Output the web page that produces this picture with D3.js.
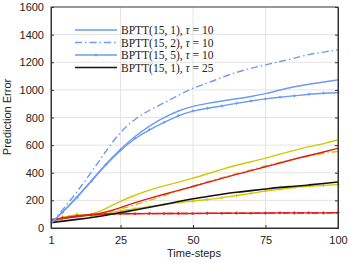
<!DOCTYPE html>
<html><head><meta charset="utf-8">
<script src="https://cdn.jsdelivr.net/npm/d3@7"></script>
<style>body{margin:0;background:#fff}svg{display:block}</style>
</head><body><svg id="c" width="350" height="263"></svg>
<script>
const steps = [1,5,10,15,20,25,30,35,40,45,50,55,60,65,70,75,80,85,90,95,100];
const blueSolid  = [36,115,225,345,465,572,665,740,800,850,882,903,920,935,952,971,1000,1024,1041,1058,1072];
const blueDash   = [36,130,262,405,560,700,790,855,905,962,1015,1048,1092,1128,1157,1181,1205,1229,1258,1273,1290];
const blueMark   = [36,112,220,340,460,565,650,712,765,815,848,867,884,903,920,935,947,957,969,976,980];
const black25    = [38,50,62,75,92,112,130,150,170,192,212,228,245,260,270,282,295,302,312,322,333];
const yellowSolid= [40,75,95,95,140,195,238,275,305,332,360,393,425,455,480,505,535,562,590,610,638];
const yellowDash = [40,70,95,90,110,140,165,200,235,270,305,335,365,395,420,450,475,500,520,540,555];
const yellowMark = [40,80,100,85,105,125,140,155,170,185,195,205,220,235,250,268,280,295,302,308,315];
const redSolid   = [60,70,80,95,115,147,185,215,245,272,300,330,360,388,415,444,470,500,525,550,577];
const redDash    = [55,70,85,95,100,105,105,103,105,104,106,105,107,106,108,107,108,109,108,110,110];
const redMark    = [60,72,88,97,102,104,103,106,104,106,105,107,106,108,107,108,110,109,110,109,111];
const xTicks = [1,25,50,75,100];
const yTicks = [0,200,400,600,800,1000,1200,1400,1600];
const legendLabels = [["BPTT(15, 1), ","10"],["BPTT(15, 2), ","10"],["BPTT(15, 5), ","10"],["BPTT(15, 1), ","25"]];

const BLUE="#6d9bf1", YEL="#d4c700", RED="#e01b1b", BLK="#111";
const series = [
  {v:yellowSolid,c:YEL,t:"solid"},{v:yellowDash,c:YEL,t:"dash"},{v:yellowMark,c:YEL,t:"mark"},
  {v:redDash,c:RED,t:"dash"},{v:redMark,c:RED,t:"mark"},{v:redSolid,c:RED,t:"solid"},
  {v:black25,c:BLK,t:"solid"},
  {v:blueMark,c:BLUE,t:"mark"},{v:blueSolid,c:BLUE,t:"solid"},{v:blueDash,c:BLUE,t:"dash"}
];

const svg = d3.select("#c");
const L=51,R=338,T=7,B=228;
const x = d3.scaleLinear().domain([1,100]).range([L,R]);
const y = d3.scaleLinear().domain([0,1600]).range([B,T]);

svg.append("g").selectAll("line").data(yTicks.slice(1,-1)).join("line")
  .attr("x1",L).attr("x2",R).attr("y1",d=>y(d)).attr("y2",d=>y(d))
  .attr("stroke","#e3e3e3").attr("stroke-width",1);
svg.append("g").selectAll("line").data(xTicks.slice(1,-1)).join("line")
  .attr("y1",T).attr("y2",B).attr("x1",d=>x(d)).attr("x2",d=>x(d))
  .attr("stroke","#e3e3e3").attr("stroke-width",1);

const line = d3.line().x((d,i)=>x(steps[i])).y(d=>y(d)).curve(d3.curveBasis);
const dashes = {solid:null,dash:"7,3,1.5,3",mark:null};
series.forEach(s=>{
  svg.append("path").attr("d",line(s.v)).attr("fill","none").attr("stroke",s.c)
    .attr("stroke-width",s.c===BLK?1.6:1.4).attr("stroke-dasharray",dashes[s.t]);
  if(s.t==="mark"){
    svg.append("g").selectAll("path").data(s.v.slice(1)).join("path")
      .attr("d",(d,i)=>{const px=x(steps[i+1]),py=y(d);return `M${px-1.5},${py}H${px+1.5}M${px},${py-1.5}V${py+1.5}`;})
      .attr("stroke",s.c).attr("stroke-width",1);
  }
});

svg.append("rect").attr("x",L).attr("y",T).attr("width",R-L).attr("height",B-T)
  .attr("fill","none").attr("stroke","#333").attr("stroke-width",1);

const yAx = svg.append("g").attr("transform",`translate(${L},0)`)
  .call(d3.axisLeft(y).tickValues(yTicks).tickSize(-3).tickPadding(7).tickFormat(d3.format("d")));
const xAx = svg.append("g").attr("transform",`translate(0,${B})`)
  .call(d3.axisBottom(x).tickValues(xTicks).tickSize(-3).tickPadding(8).tickFormat(d3.format("d")));
svg.append("g").attr("transform",`translate(${R},0)`)
  .call(d3.axisRight(y).tickValues(yTicks).tickSize(-3).tickFormat(""));
[yAx,xAx].forEach(a=>{a.selectAll("text").attr("font-family","Liberation Sans, Arial, sans-serif").attr("font-size",11).attr("fill","#222");});
svg.selectAll(".domain").attr("stroke","#333");
svg.selectAll(".tick line").attr("stroke","#333");

svg.append("text").attr("x",194).attr("y",257).attr("text-anchor","middle")
  .attr("font-family","Liberation Sans, Arial, sans-serif").attr("font-size",11).attr("fill","#222").text("Time-steps");
svg.append("text").attr("transform","translate(11,117) rotate(-90)").attr("text-anchor","middle")
  .attr("font-family","Liberation Sans, Arial, sans-serif").attr("font-size",11).attr("fill","#222").text("Prediction Error");

const lg = [{c:BLUE,t:"solid"},{c:BLUE,t:"dash"},{c:BLUE,t:"mark"},{c:BLK,t:"solid"}];
const ly = [30,42.5,55,67.5];
lg.forEach((d,i)=>{
  svg.append("line").attr("x1",75).attr("x2",117).attr("y1",ly[i]).attr("y2",ly[i])
    .attr("stroke",d.c).attr("stroke-width",d.c===BLK?1.6:1.4).attr("stroke-dasharray",dashes[d.t]);
  if(d.t==="mark") svg.append("path").attr("d",`M94.5,${ly[i]}H97.5M96,${ly[i]-1.5}V${ly[i]+1.5}`).attr("stroke",d.c);
  const t = svg.append("text").attr("x",121).attr("y",ly[i]+4).attr("font-family","Liberation Serif, serif")
    .attr("font-size",11.5).attr("fill","#222");
  t.append("tspan").text(legendLabels[i][0]);
  t.append("tspan").attr("font-style","italic").text("\u03c4");
  t.append("tspan").text(" = "+legendLabels[i][1]);
});
</script></body></html>
